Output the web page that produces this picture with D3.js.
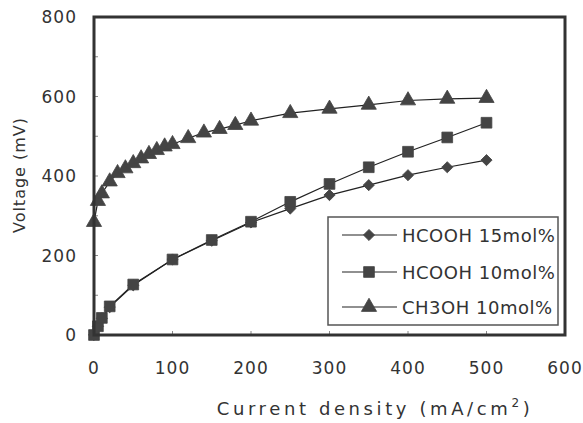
<!DOCTYPE html>
<html>
<head>
<meta charset="utf-8">
<script src="https://cdn.jsdelivr.net/npm/d3@7"></script>
<style>
  body { margin: 0; background: #fff; }
  text { font-family: "DejaVu Sans", "Liberation Sans", sans-serif; fill: #333; }
</style>
</head>
<body>
<svg width="583" height="423"></svg>
<script>
// data
const xTicks = [0, 100, 200, 300, 400, 500, 600];
const yTicks = [0, 200, 400, 600, 800];

const hcooh15X = [0, 5, 10, 20, 50, 100, 150, 200, 250, 300, 350, 400, 450, 500];
const hcooh15Y = [0, 22, 42, 70, 125, 190, 237, 283, 318, 352, 377, 402, 422, 440];

const hcooh10X = [0, 5, 10, 20, 50, 100, 150, 200, 250, 300, 350, 400, 450, 500];
const hcooh10Y = [0, 22, 43, 72, 127, 190, 239, 285, 335, 380, 422, 461, 497, 534];

const ch3ohX = [0, 5, 10, 20, 30, 40, 50, 60, 70, 80, 90, 100, 120, 140, 160, 180, 200, 250, 300, 350, 400, 450, 500];
const ch3ohY = [284, 337, 356, 386, 407, 419, 432, 444, 455, 465, 474, 480, 495, 509, 518, 528, 539, 558, 569, 579, 590, 594, 596];

const seriesNames = ['HCOOH 15mol%', 'HCOOH 10mol%', 'CH3OH 10mol%'];

const svg = d3.select('svg');
const x = d3.scaleLinear().domain([0, 600]).range([94, 565]);
const y = d3.scaleLinear().domain([0, 800]).range([335, 17]);

const ink = '#333';

const series = [
  { name: seriesNames[0], pts: hcooh15X.map((v, i) => [v, hcooh15Y[i]]), sym: d3.symbolSquare, size: 62, rot: 45 },
  { name: seriesNames[1], pts: hcooh10X.map((v, i) => [v, hcooh10Y[i]]), sym: d3.symbolSquare, size: 115, rot: 0 },
  { name: seriesNames[2], pts: ch3ohX.map((v, i) => [v, ch3ohY[i]]), sym: d3.symbolTriangle, size: 100, rot: 0 }
];

// inner minor ticks every 100
const g = svg.append('g');
d3.range(100, 800, 100).forEach(v => {
  g.append('line').attr('x1', x(0)).attr('x2', x(0) + 4)
    .attr('y1', y(v)).attr('y2', y(v)).attr('stroke', '#888').attr('stroke-width', 1);
});
d3.range(100, 600, 100).forEach(v => {
  g.append('line').attr('x1', x(v)).attr('x2', x(v))
    .attr('y1', y(0)).attr('y2', y(0) - 4).attr('stroke', '#888').attr('stroke-width', 1);
});

// lines and markers
const line = d3.line().x(d => x(d[0])).y(d => y(d[1]));
series.forEach(s => {
  svg.append('path').datum(s.pts)
    .attr('fill', 'none').attr('stroke', '#222').attr('stroke-width', 1.2)
    .attr('d', line);
  svg.selectAll(null).data(s.pts).enter().append('path')
    .attr('d', d3.symbol().type(s.sym).size(s.size))
    .attr('transform', d => `translate(${x(d[0])},${y(d[1])}) rotate(${s.rot})`)
    .attr('fill', '#444').attr('stroke', '#444').attr('stroke-width', 0.8);
});

// frame
svg.append('rect')
  .attr('x', x(0)).attr('y', y(800))
  .attr('width', x(600) - x(0)).attr('height', y(0) - y(800))
  .attr('fill', 'none').attr('stroke', ink).attr('stroke-width', 3);

// tick labels
svg.selectAll('.xt').data(xTicks).enter().append('text')
  .attr('x', d => x(d)).attr('y', 374)
  .attr('text-anchor', 'middle').attr('font-size', 17).attr('letter-spacing', 1)
  .text(d => d);
svg.selectAll('.yt').data(yTicks).enter().append('text')
  .attr('x', 77).attr('y', d => y(d) + 6)
  .attr('text-anchor', 'end').attr('font-size', 17).attr('letter-spacing', 1)
  .text(d => d);

// axis titles
const xt = svg.append('text')
  .attr('x', 375).attr('y', 415)
  .attr('text-anchor', 'middle').attr('font-size', 18).attr('letter-spacing', 3.6);
xt.append('tspan').text('Current density (mA/cm');
xt.append('tspan').attr('font-size', 12).attr('dy', -8).text('2');
xt.append('tspan').attr('dy', 8).text(')');

svg.append('text')
  .attr('transform', 'translate(25,175) rotate(-90)')
  .attr('text-anchor', 'middle').attr('font-size', 16).attr('letter-spacing', 1)
  .text('Voltage (mV)');

// legend
const lg = svg.append('g');
lg.append('rect').attr('x', 328).attr('y', 217).attr('width', 230).attr('height', 108)
  .attr('fill', '#fff').attr('stroke', '#555').attr('stroke-width', 1.5);
const rowY = [235, 272, 307];
series.forEach((s, i) => {
  lg.append('line').attr('x1', 342).attr('x2', 397)
    .attr('y1', rowY[i]).attr('y2', rowY[i]).attr('stroke', '#222').attr('stroke-width', 1.2);
  lg.append('path')
    .attr('d', d3.symbol().type(s.sym).size(s.size))
    .attr('transform', `translate(369,${rowY[i]}) rotate(${s.rot})`)
    .attr('fill', '#444').attr('stroke', '#444').attr('stroke-width', 0.8);
  lg.append('text').attr('x', 402).attr('y', rowY[i] + 7)
    .attr('font-size', 18).attr('letter-spacing', 0.5)
    .text(s.name);
});
</script>
</body>
</html>
